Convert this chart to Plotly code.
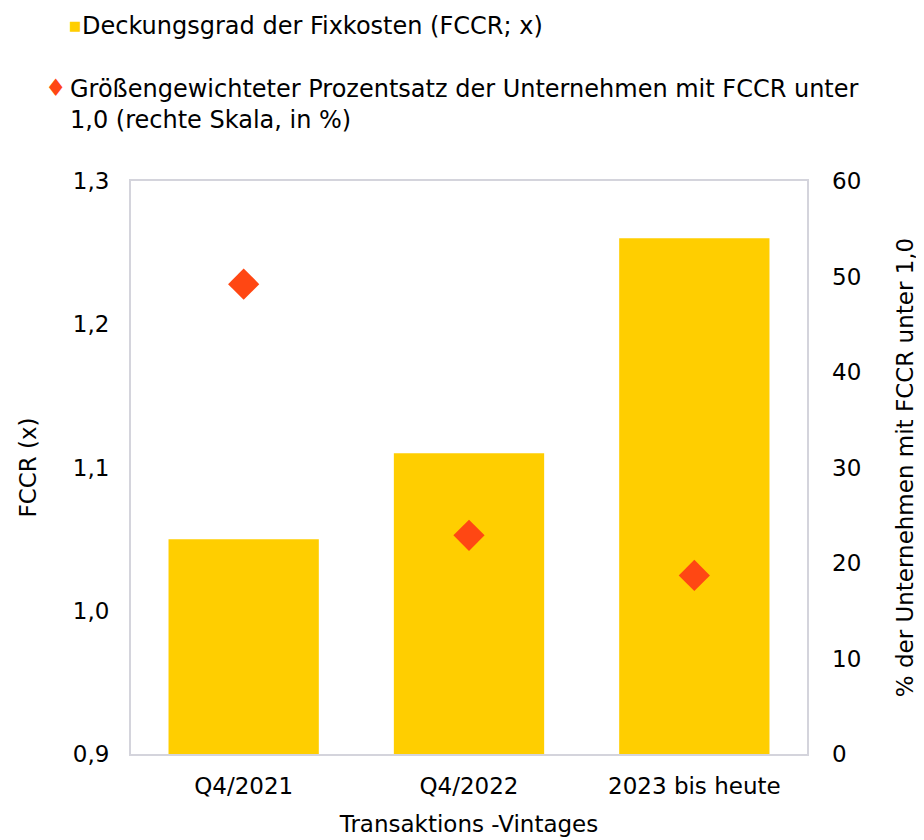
import plotly.graph_objects as go

# categories and values
vintages = ['Q4/2021', 'Q4/2022', '2023 bis heute']
fccr = [1.05, 1.11, 1.26]
pct_below_1 = [49.2, 22.9, 18.7]

bar_color = '#FFCE00'
diamond_color = '#FF4713'
font_family = 'DejaVu Sans, Arial, sans-serif'

fig = go.Figure()

# bars start at the bottom of the axis (0.9)
fig.add_trace(go.Bar(
    x=vintages, y=[v - 0.9 for v in fccr], base=0.9,
    name='Deckungsgrad der Fixkosten (FCCR; x)',
    marker=dict(color=bar_color, line=dict(width=0)),
    showlegend=False,
))

fig.add_trace(go.Scatter(
    x=vintages, y=pct_below_1,
    name='Größengewichteter Prozentsatz der Unternehmen mit FCCR unter 1,0 (rechte Skala, in %)',
    mode='markers',
    marker=dict(symbol='diamond', size=24, color=diamond_color),
    yaxis='y2',
    showlegend=False,
))

axis_line = '#D4D4DC'

# the page body adds an 8px offset, so margins are shifted to compensate
fig.update_layout(
    width=924, height=840,
    margin=dict(l=123, r=125, t=173, b=94),
    plot_bgcolor='white', paper_bgcolor='white',
    font=dict(family=font_family, size=23, color='#000000'),
    separators=',.',
    bargap=0.333,
    xaxis=dict(
        showline=True, linecolor=axis_line, linewidth=2, mirror=True,
        ticks='', tickfont=dict(size=23), ticklabelstandoff=10,
        automargin=False,
        title=dict(text='Transaktions -Vintages', font=dict(size=23), standoff=18),
    ),
    yaxis=dict(
        range=[0.9, 1.3], dtick=0.1, tickformat='.1f',
        showgrid=False, zeroline=False,
        showline=True, linecolor=axis_line, linewidth=2, mirror=True,
        ticks='', tickfont=dict(size=23), ticklabelstandoff=15,
        automargin=False,
        title=dict(text='FCCR (x)', font=dict(size=23), standoff=30),
    ),
    yaxis2=dict(
        overlaying='y', side='right',
        range=[0, 60], dtick=10,
        showgrid=False, zeroline=False, showline=False,
        tickfont=dict(size=23), ticklabelstandoff=24,
        automargin=False,
        title=dict(text='% der Unternehmen mit FCCR unter 1,0', font=dict(size=23), standoff=36),
    ),
)

# legend drawn as glyphs plus text rows above the plot
px_w = 676.0
fig.add_annotation(
    xref='paper', yref='paper', x=(67 - 131) / px_w, y=1.0, yshift=156,
    xanchor='left', yanchor='middle', showarrow=False,
    text='■', font=dict(size=13, color=bar_color),
)
fig.add_annotation(
    xref='paper', yref='paper', x=(80 - 131) / px_w, y=1.0, yshift=155,
    xanchor='left', yanchor='middle', showarrow=False, align='left',
    text='Deckungsgrad der Fixkosten (FCCR; x)', font=dict(size=24),
)
fig.add_annotation(
    xref='paper', yref='paper', x=(43 - 131) / px_w, y=1.0, yshift=93,
    xanchor='left', yanchor='middle', showarrow=False,
    text='♦', font=dict(size=24, color=diamond_color),
)
fig.add_annotation(
    xref='paper', yref='paper', x=(68 - 131) / px_w, y=1.0, yshift=77,
    xanchor='left', yanchor='middle', showarrow=False, align='left',
    text='Größengewichteter Prozentsatz der Unternehmen mit FCCR unter<br>1,0 (rechte Skala, in %)',
    font=dict(size=24),
)

fig.write_html('out.html')
